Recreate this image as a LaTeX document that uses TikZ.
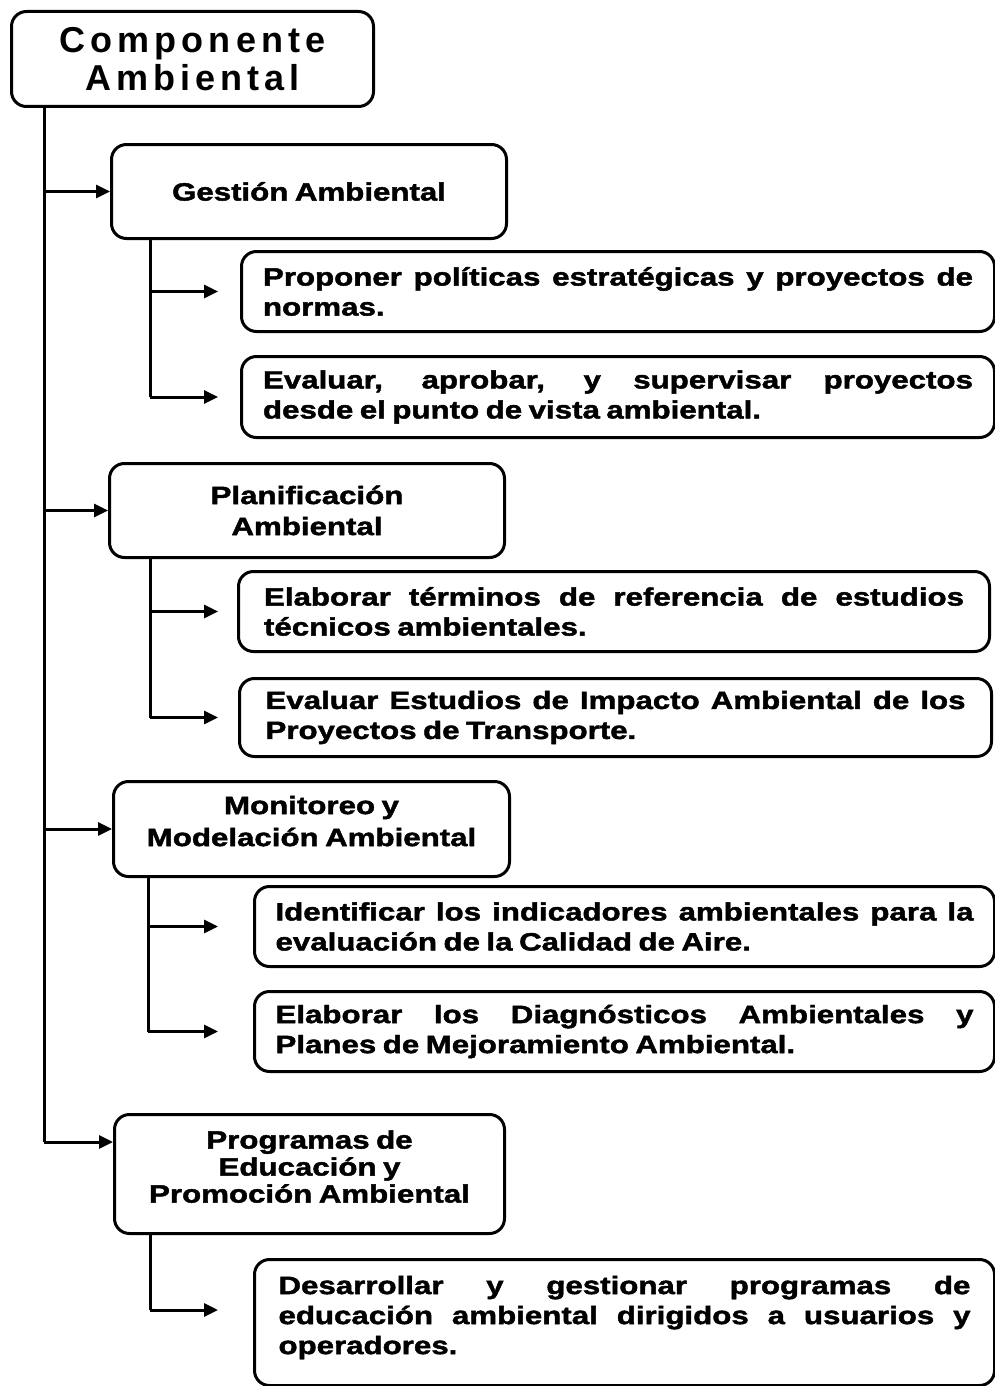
\documentclass[tikz,border=0pt]{standalone}
\usepackage{fontspec}
\setmainfont{Liberation Sans}
\newfontfamily\rootfont[LetterSpace=14]{Liberation Sans}
\newfontfamily\boxfont[FakeStretch=1.25, FakeBold=1.8, WordSpace=0.75]{Liberation Sans}
\usetikzlibrary{arrows.meta}
\hyphenpenalty=10000
\exhyphenpenalty=10000
\begin{document}
\begin{tikzpicture}[x=1pt,y=-1pt,
  box/.style={draw, line width=3pt, rounded corners=15pt, anchor=north west, inner sep=0pt},
  headbox/.style={box, align=center, font={\boxfont\fontsize{25}{31}\selectfont\bfseries}},
  subbox/.style={box, align=justify, font={\boxfont\fontsize{25}{30}\selectfont\bfseries}},
  conn/.style={line width=3pt, -{Triangle[length=14pt,width=13pt]}},
  line/.style={line width=3pt}
]
\useasboundingbox (0,0) rectangle (994,1386);

% root
\node[box, minimum width=362pt, minimum height=95pt, align=center,
      font={\rootfont\fontsize{36}{38}\selectfont\bfseries}] (root) at (10,10) {Componente\\Ambiental};

% headings
\node[headbox, minimum width=395pt, minimum height=94pt] (gest) at (110,143) {Gestión Ambiental};
\node[headbox, minimum width=395pt, minimum height=94pt] (plan) at (108,462) {Planificación\\Ambiental};
\node[headbox, minimum width=396pt, minimum height=95pt, font={\boxfont\fontsize{25}{32}\selectfont\bfseries}] (moni) at (112,780) {Monitoreo y\\Modelación Ambiental\\[-16pt]};
\node[headbox, minimum width=390pt, minimum height=119pt, font={\boxfont\fontsize{25}{27}\selectfont\bfseries}] (prog) at (113,1113) {Programas de\\Educación y\\Promoción Ambiental\\[-12pt]};

% sub boxes
\node[subbox, minimum width=753pt, minimum height=80pt, text width=710pt] (s1) at (240,250)
  {Proponer políticas estratégicas y proyectos de\linebreak normas.};
\node[subbox, minimum width=753pt, minimum height=81pt, text width=710pt] (s2) at (240,355)
  {Evaluar, aprobar, y supervisar proyectos\linebreak desde el punto de vista ambiental.};
\node[subbox, minimum width=751pt, minimum height=80pt, text width=700pt] (s3) at (237,570)
  {Elaborar términos de referencia de estudios\linebreak técnicos ambientales.};
\node[subbox, minimum width=752pt, minimum height=78pt, text width=700pt] (s4) at (238,677)
  {Evaluar Estudios de Impacto Ambiental de los\linebreak Proyectos de Transporte.};
\node[subbox, minimum width=740pt, minimum height=80pt, text width=698pt] (s5) at (253,885)
  {Identificar los indicadores ambientales para la\linebreak evaluación de la Calidad de Aire.};
\node[subbox, minimum width=740pt, minimum height=80pt, text width=698pt] (s6) at (253,990)
  {Elaborar los Diagnósticos Ambientales y\linebreak Planes de Mejoramiento Ambiental.};
\node[subbox, minimum width=740pt, minimum height=126pt, text width=692pt] (s7) at (253,1258)
  {Desarrollar y gestionar programas de\linebreak educación ambiental dirigidos a usuarios y\linebreak operadores.\\[-15pt]};

% trunk
\draw[line] ([xshift=34pt]root.south west) -- ([xshift=34pt,yshift=-29pt]root.south west |- prog.north);
\draw[conn] ([xshift=34pt]root.south west |- gest.west) -- (gest.west);
\draw[conn] ([xshift=34pt]root.south west |- plan.west) -- (plan.west);
\draw[conn] ([xshift=34pt]root.south west |- moni.west) -- (moni.west);
\draw[conn] ([xshift=34pt,yshift=-29pt]root.south west |- prog.north) -- ([yshift=-29pt]prog.north west);

% gestion subs
\draw[line] ([xshift=40pt]gest.south west) -- ([xshift=40pt]gest.south west |- s2.west);
\draw[conn] ([xshift=40pt]gest.south west |- s1.west) -- ([xshift=-22pt]s1.west);
\draw[conn] ([xshift=40pt]gest.south west |- s2.west) -- ([xshift=-22pt]s2.west);

% planificacion subs
\draw[line] ([xshift=42pt]plan.south west) -- ([xshift=42pt]plan.south west |- s4.west);
\draw[conn] ([xshift=42pt]plan.south west |- s3.west) -- ([xshift=-19pt]s3.west);
\draw[conn] ([xshift=42pt]plan.south west |- s4.west) -- ([xshift=-20pt]s4.west);

% monitoreo subs
\draw[line] ([xshift=36pt]moni.south west) -- ([xshift=36pt]moni.south west |- s6.west);
\draw[conn] ([xshift=36pt]moni.south west |- s5.west) -- ([xshift=-35pt]s5.west);
\draw[conn] ([xshift=36pt]moni.south west |- s6.west) -- ([xshift=-35pt]s6.west);

% programas subs
\draw[line] ([xshift=37pt]prog.south west) -- ([xshift=37pt,yshift=-52pt]prog.south west |- s7.north);
\draw[conn] ([xshift=37pt,yshift=-52pt]prog.south west |- s7.north) -- ([xshift=-35pt,yshift=-52pt]s7.north west);
\end{tikzpicture}
\end{document}
